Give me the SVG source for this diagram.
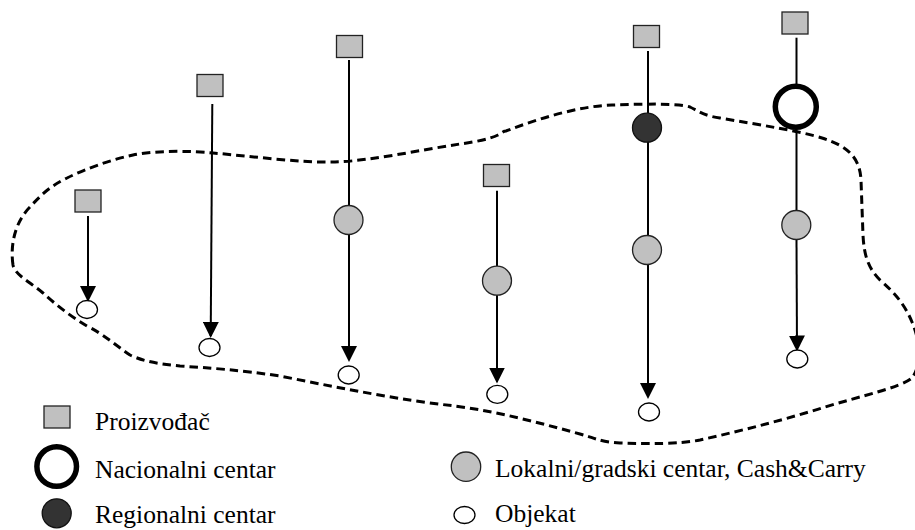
<svg xmlns="http://www.w3.org/2000/svg" width="915" height="530" viewBox="0 0 915 530">
<style>
.prod{fill:#c0c0c0;stroke:#222;stroke-width:1.3}
.loc{fill:#c0c0c0;stroke:#222;stroke-width:1.3}
.reg{fill:#333;stroke:#111;stroke-width:1.3}
.nat{fill:#fff;stroke:#000;stroke-width:5.5}
.obj{fill:#fff;stroke:#000;stroke-width:1.3}
.link{stroke:#000;stroke-width:2;fill:none}
.arrow{stroke:#000;stroke-width:2;fill:none;marker-end:url(#ah)}
.area{fill:none;stroke:#000;stroke-width:3;stroke-dasharray:8.5 5}
text{font-family:"Liberation Serif","Times New Roman",serif;font-size:25.5px;fill:#000}
</style>
<defs>
<marker id="ah" markerUnits="userSpaceOnUse" viewBox="0 0 16 16" markerWidth="16" markerHeight="16" refX="14" refY="8" orient="auto">
<path d="M0,0 L16,8 L0,16 Z" fill="#000"/>
</marker>
</defs>

<path class="area" d="M 13,265 C 10,245 15,222 30,207 C 40,196 50,186 67,178 C 85,169 110,160 133,155 C 160,150 190,151 213,153 C 250,156 300,163 335,162 C 370,161 420,150 460,144 C 475,142 490,139 498,135 C 502,133 503,131 506,131 C 540,118 580,106 612,105 C 640,104 680,103 690,107 C 700,112 705,116 720,118 C 760,125 800,131 822,138 C 848,146 860,158 861,180 L 863,235 C 864,255 868,268 880,280 C 895,293 905,305 912,322 C 920,340 922,365 912,378 C 900,388 860,396 822,408 C 790,418 745,430 700,440 C 680,444 650,444 620,443 C 600,442 595,438 580,434 C 540,423 500,412 455,406 C 400,400 340,388 280,376 C 240,370 210,368 180,366 C 160,364 145,362 130,355 C 115,345 105,335 87,326 C 70,316 55,304 43,293 C 30,282 15,275 13,265 Z"/>

<g id="connectors">
<line class="arrow" x1="88" y1="216" x2="88" y2="300"/>
<line class="arrow" x1="212.3" y1="104" x2="210.7" y2="336"/>
<line class="link" x1="349" y1="60" x2="349" y2="206"/>
<line class="arrow" x1="349" y1="234" x2="349" y2="360"/>
<line class="link" x1="497" y1="190.7" x2="497" y2="266"/>
<line class="arrow" x1="497" y1="295" x2="497" y2="381.5"/>
<line class="link" x1="648" y1="51" x2="648" y2="113"/>
<line class="link" x1="648" y1="142" x2="648" y2="236"/>
<line class="arrow" x1="648" y1="264" x2="648" y2="397"/>
<line class="link" x1="796.5" y1="37.7" x2="796.5" y2="86"/>
<line class="link" x1="796.5" y1="127" x2="796.5" y2="211"/>
<line class="arrow" x1="796.5" y1="239" x2="797" y2="349.5"/>
</g>

<g id="p1"><rect class="prod" x="75" y="190" width="26" height="22"/></g>
<g id="o1"><ellipse class="obj" cx="87" cy="309.5" rx="10.5" ry="9"/></g>

<g id="p2"><rect class="prod" x="197" y="74.5" width="26" height="22"/></g>
<g id="o2"><ellipse class="obj" cx="209.5" cy="347.5" rx="10.5" ry="9"/></g>

<g id="p3"><rect class="prod" x="336.5" y="35.5" width="26" height="22"/></g>
<g id="l3"><circle class="loc" cx="348.5" cy="220" r="14.5"/></g>
<g id="o3"><ellipse class="obj" cx="348.7" cy="375" rx="10.5" ry="9"/></g>

<g id="p4"><rect class="prod" x="483.5" y="164.5" width="26" height="22"/></g>
<g id="l4"><circle class="loc" cx="497" cy="280.7" r="14.5"/></g>
<g id="o4"><ellipse class="obj" cx="497.3" cy="394.3" rx="10.5" ry="9"/></g>

<g id="p5"><rect class="prod" x="633.5" y="25.5" width="26" height="22"/></g>
<g id="r5"><circle class="reg" cx="647" cy="127.7" r="14.5"/></g>
<g id="l5"><circle class="loc" cx="647" cy="250" r="14.5"/></g>
<g id="o5"><ellipse class="obj" cx="649" cy="412" rx="10.5" ry="9"/></g>

<g id="p6"><rect class="prod" x="782" y="12" width="26" height="22"/></g>
<g id="n6"><circle class="nat" cx="795.8" cy="106.7" r="20.5"/></g>
<g id="l6"><circle class="loc" cx="796.3" cy="225" r="14.5"/></g>
<g id="o6"><ellipse class="obj" cx="797.3" cy="359" rx="10.5" ry="9"/></g>

<g id="legend">
<rect class="prod" x="44" y="406" width="26" height="22"/>
<text x="95" y="430">Proizvođač</text>
<circle class="nat" cx="56.7" cy="466.5" r="19.8"/>
<text x="95" y="478">Nacionalni centar</text>
<circle class="reg" cx="56.7" cy="513.3" r="14.5"/>
<text x="95" y="523">Regionalni centar</text>
<circle class="loc" cx="466" cy="466.7" r="14.7"/>
<text x="495" y="477">Lokalni/gradski centar, Cash&amp;Carry</text>
<ellipse class="obj" cx="464.5" cy="515" rx="10.5" ry="8.5"/>
<text x="495" y="522">Objekat</text>
</g>
</svg>
